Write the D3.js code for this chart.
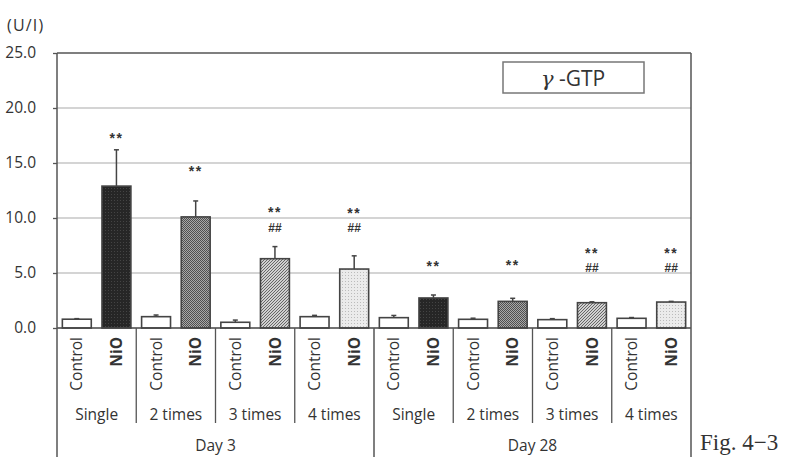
<!DOCTYPE html>
<html>
<head>
<meta charset="utf-8">
<script src="https://cdn.jsdelivr.net/npm/d3@7"></script>
<style>
  body { margin: 0; background: #fff; }
  svg { display: block; }
  text { font-family: "Open Sans", "Noto Sans", sans-serif; fill: #333; }
</style>
</head>
<body>
<div id="chart"></div>
<script>
// DATA
var days = ["Day 3", "Day 28"];
var doses = ["Single", "2 times", "3 times", "4 times"];
var groups = ["Control", "NiO"];
var yTicks = [0, 5, 10, 15, 20, 25];

// one entry per day x dose
var controlMean = [0.80, 1.03, 0.52, 1.03, 0.94, 0.79, 0.76, 0.88];
var controlSD   = [0.05, 0.15, 0.20, 0.12, 0.20, 0.10, 0.09, 0.07];
var nioMean     = [12.9, 10.1, 6.30, 5.36, 2.73, 2.42, 2.30, 2.36];
var nioSD       = [3.30, 1.45, 1.10, 1.20, 0.27, 0.28, 0.08, 0.06];
// significance marks (value level where the "**" sits; "##" goes below it)
var starLevel = [17.5, 14.5, 10.75, 10.7, 5.9, 6.0, 7.05, 7.05];
var hasHash   = [false, false, true, true, false, false, true, true];

var svgWidth = 788;
var svgHeight = 457;
var margin = { top: 53, left: 57, right: 97, bottom: 129 };
var width = svgWidth - margin.left - margin.right;
var height = svgHeight - margin.top - margin.bottom;
var fontSize = 15.5;

var svg = d3.select("#chart")
  .append("svg")
  .attr("width", svgWidth)
  .attr("height", svgHeight);

// PATTERNS for NiO bars by dose
var defs = svg.append("defs");

var p0 = defs.append("pattern").attr("id", "pat0")
  .attr("width", 3).attr("height", 3).attr("patternUnits", "userSpaceOnUse");
p0.append("rect").attr("width", 3).attr("height", 3).attr("fill", "#262626");
p0.append("rect").attr("width", 1).attr("height", 1).attr("fill", "#444");

var p1 = defs.append("pattern").attr("id", "pat1")
  .attr("width", 2).attr("height", 2).attr("patternUnits", "userSpaceOnUse");
p1.append("rect").attr("width", 2).attr("height", 2).attr("fill", "#a8a8a8");
p1.append("rect").attr("width", 1).attr("height", 1).attr("fill", "#4f4f4f");
p1.append("rect").attr("x", 1).attr("y", 1).attr("width", 1).attr("height", 1).attr("fill", "#4f4f4f");

var p2 = defs.append("pattern").attr("id", "pat2")
  .attr("width", 3).attr("height", 3).attr("patternUnits", "userSpaceOnUse");
p2.append("rect").attr("width", 3).attr("height", 3).attr("fill", "#d0d0d0");
p2.append("path").attr("d", "M0,3 L3,0 M-1,1 L1,-1 M2,4 L4,2")
  .attr("stroke", "#666").attr("stroke-width", 1);

var p3 = defs.append("pattern").attr("id", "pat3")
  .attr("width", 3).attr("height", 3).attr("patternUnits", "userSpaceOnUse");
p3.append("rect").attr("width", 3).attr("height", 3).attr("fill", "#ebebeb");
p3.append("rect").attr("width", 1).attr("height", 1).attr("fill", "#bbb");

// SCALES
var yScale = d3.scaleLinear().domain([0, 25]).range([height, 0]);

var groupKeys = [];
days.forEach(function(d) {
  doses.forEach(function(s) { groupKeys.push(d + "|" + s); });
});

var xGroup = d3.scaleBand().domain(groupKeys).range([0, width]).padding(0);
var xBar = d3.scaleBand().domain(groups).range([0, xGroup.bandwidth()])
  .paddingInner(0.27).paddingOuter(0.135);
var xDay = d3.scaleBand().domain(days).range([0, width]).padding(0);

var chartGroup = svg.append("g")
  .attr("transform", `translate(${margin.left}, ${margin.top})`);

// GRIDLINES
chartGroup.append("g")
  .selectAll("line")
  .data(yTicks.filter(t => t > 0 && t < 25))
  .enter()
  .append("line")
  .attr("x1", 0).attr("x2", width)
  .attr("y1", d => yScale(d)).attr("y2", d => yScale(d))
  .attr("stroke", "#aaa").attr("stroke-width", 1.2);

// Y AXIS
var leftAxis = d3.axisLeft(yScale)
  .tickValues(yTicks)
  .tickFormat(d3.format(".1f"))
  .tickSize(4)
  .tickPadding(17);

var yAxis = chartGroup.append("g").call(leftAxis);
yAxis.select(".domain").remove();
yAxis.selectAll("line").attr("stroke", "#555").attr("stroke-width", 1.3);
yAxis.selectAll("text").attr("font-size", fontSize).attr("fill", "#333")
  .style("font-family", "'Open Sans', sans-serif");

// unit label
svg.append("text")
  .attr("x", 7).attr("y", 31)
  .attr("font-size", 16)
  .attr("letter-spacing", 1.2)
  .text("(U/I)");

// BARS
var rows = [];
groupKeys.forEach(function(k, i) {
  rows.push({ key: k, idx: i, group: "Control", mean: controlMean[i], sd: controlSD[i], fill: "#fff" });
  rows.push({ key: k, idx: i, group: "NiO", mean: nioMean[i], sd: nioSD[i], fill: "url(#pat" + (i % 4) + ")" });
});

function barX(d) { return xGroup(d.key) + xBar(d.group); }
function barMid(d) { return barX(d) + xBar.bandwidth() / 2; }

// error bars
var errGroup = chartGroup.append("g");
errGroup.selectAll("line.err")
  .data(rows).enter().append("line")
  .attr("x1", barMid).attr("x2", barMid)
  .attr("y1", d => yScale(d.mean)).attr("y2", d => yScale(d.mean + d.sd))
  .attr("stroke", "#444").attr("stroke-width", 1.5);
errGroup.selectAll("line.cap")
  .data(rows).enter().append("line")
  .attr("x1", d => barMid(d) - 2.5).attr("x2", d => barMid(d) + 2.5)
  .attr("y1", d => yScale(d.mean + d.sd)).attr("y2", d => yScale(d.mean + d.sd))
  .attr("stroke", "#444").attr("stroke-width", 1.5);

chartGroup.append("g")
  .selectAll("rect")
  .data(rows).enter().append("rect")
  .attr("x", barX)
  .attr("width", xBar.bandwidth())
  .attr("y", d => yScale(d.mean))
  .attr("height", d => yScale(0) - yScale(d.mean))
  .attr("fill", d => d.fill)
  .attr("stroke", "#444")
  .attr("stroke-width", 1.6);

// SIGNIFICANCE MARKS
var nioRows = rows.filter(d => d.group === "NiO");
var sigGroup = chartGroup.append("g")
  .style("font-family", "'Liberation Sans', Arial, sans-serif");

sigGroup.selectAll("text.star")
  .data(nioRows).enter().append("text")
  .attr("x", barMid)
  .attr("y", d => yScale(starLevel[d.idx]))
  .attr("dy", "0.55em")
  .attr("text-anchor", "middle")
  .attr("font-size", 14).attr("font-weight", "bold")
  .attr("letter-spacing", 1.5)
  .attr("fill", "#333")
  .style("font-family", "'Liberation Sans', Arial, sans-serif")
  .text("**");

sigGroup.selectAll("text.hash")
  .data(nioRows.filter(d => hasHash[d.idx])).enter().append("text")
  .attr("x", barMid)
  .attr("y", d => yScale(starLevel[d.idx]) + 7.7 + 14.2)
  .attr("text-anchor", "middle")
  .attr("font-size", 12).attr("font-weight", "bold")
  .attr("fill", "#444")
  .style("font-family", "'Liberation Sans', Arial, sans-serif")
  .text("##");

// FRAME
chartGroup.append("line")
  .attr("x1", 0).attr("x2", width).attr("y1", 0).attr("y2", 0)
  .attr("stroke", "#555").attr("stroke-width", 1.5);
chartGroup.append("line")
  .attr("x1", 0).attr("x2", width).attr("y1", height).attr("y2", height)
  .attr("stroke", "#444").attr("stroke-width", 1.6);

// CATEGORY AREA
var catBottom = 423 - margin.top;
var sepGroup = chartGroup.append("g");
sepGroup.selectAll("line.dose")
  .data(groupKeys.filter(k => doses.indexOf(k.split("|")[1]) > 0)).enter().append("line")
  .attr("x1", d => xGroup(d)).attr("x2", d => xGroup(d))
  .attr("y1", height).attr("y2", catBottom)
  .attr("stroke", "#555").attr("stroke-width", 1.3);
// outer borders full height, day divider only below the axis
sepGroup.selectAll("line.day")
  .data([0, xDay(days[1]), width]).enter().append("line")
  .attr("x1", d => d).attr("x2", d => d)
  .attr("y1", (d, i) => i === 1 ? height : 0)
  .attr("y2", svgHeight - margin.top)
  .attr("stroke", "#555").attr("stroke-width", 1.5);

// group labels (rotated)
chartGroup.append("g")
  .selectAll("text")
  .data(rows).enter().append("text")
  .attr("transform", d => `translate(${barMid(d)}, ${height + 9}) rotate(-90)`)
  .attr("dy", "0.36em")
  .attr("text-anchor", "end")
  .attr("font-size", fontSize)
  .attr("font-weight", d => d.group === "NiO" ? "bold" : "normal")
  .text(d => d.group);

// dose labels
chartGroup.append("g")
  .selectAll("text")
  .data(groupKeys).enter().append("text")
  .attr("x", d => xGroup(d) + xGroup.bandwidth() / 2)
  .attr("y", 415 - margin.top)
  .attr("dy", "0.35em")
  .attr("text-anchor", "middle")
  .attr("font-size", fontSize)
  .text(d => d.split("|")[1]);

// day labels
chartGroup.append("g")
  .selectAll("text")
  .data(days).enter().append("text")
  .attr("x", d => xDay(d) + xDay.bandwidth() / 2)
  .attr("y", 446 - margin.top)
  .attr("dy", "0.35em")
  .attr("text-anchor", "middle")
  .attr("font-size", fontSize)
  .text(d => d);

// LEGEND BOX
svg.append("rect")
  .attr("x", 503).attr("y", 62).attr("width", 141).attr("height", 31)
  .attr("fill", "#fff").attr("stroke", "#777").attr("stroke-width", 1.5);
var legendText = svg.append("text")
  .attr("x", 573).attr("y", 78).attr("dy", "0.36em")
  .attr("text-anchor", "middle")
  .attr("font-size", 21);
legendText.append("tspan").attr("font-family", "'DejaVu Serif', serif").attr("font-style", "italic").text("γ");
legendText.append("tspan").text(" -GTP");

// FIGURE LABEL
svg.append("text")
  .attr("x", 700).attr("y", 450)
  .attr("font-size", 23)
  .style("font-family", "'Liberation Serif', 'Times New Roman', serif")
  .attr("fill", "#222")
  .text("Fig.  4\u22123");
</script>
</body>
</html>
